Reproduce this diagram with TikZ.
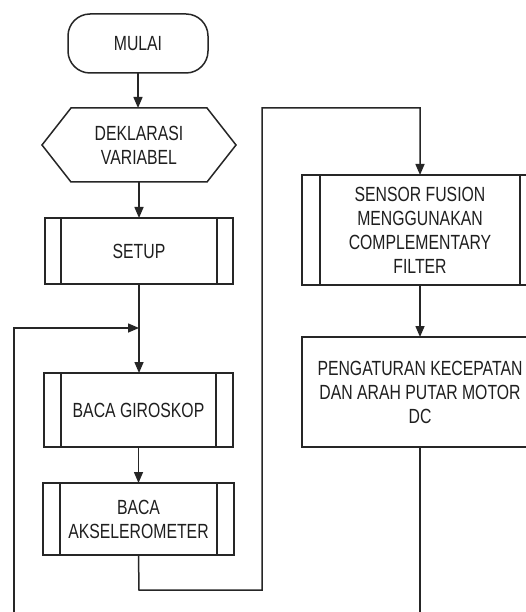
\documentclass[tikz,border=0pt]{standalone}
\usepackage{fontspec}
\setmainfont{Liberation Sans}[FakeStretch=0.77]
\usetikzlibrary{arrows.meta}
\colorlet{ln}{black!85}
\colorlet{tx}{black!88}
\newcommand\sublines[2]{\draw[ln,line width=1.5pt] ([xshift=#2]#1.north west) -- ([xshift=#2]#1.south west) ([xshift=-#2]#1.north east) -- ([xshift=-#2]#1.south east);}
\begin{document}
\begin{tikzpicture}[x=1pt,y=-1pt,
  every node/.style={font=\fontsize{20.5}{24}\selectfont, text=tx, align=center, outer sep=0pt, inner sep=0pt},
  box/.style={draw=ln, line width=1.5pt, minimum width=#1},
  conn/.style={draw=ln, line width=1.5pt},
  arr/.style={conn, -{Triangle[width=9pt,length=11pt]}}]
\useasboundingbox (0,0) rectangle (526,612);
\clip (0,0) rectangle (526,612);
\fill[white] (0,0) rectangle (526,612);
% nodes
\node[box=140pt, minimum height=59pt, rounded corners=22pt] (mulai) at (138,43.5) {MULAI};
\node[minimum width=194pt, minimum height=74pt] (dekl) at (139,145) {DEKLARASI\\VARIABEL};
\draw[ln,line width=1.5pt] (dekl.west) -- ([xshift=29]dekl.north west) -- ([xshift=-29]dekl.north east) -- (dekl.east) -- ([xshift=-29]dekl.south east) -- ([xshift=29]dekl.south west) -- cycle;
\node[box=188pt, minimum height=66pt] (setup) at (139,251) {SETUP};
\sublines{setup}{16}
\node[box=189pt, minimum height=74pt] (giro) at (138.5,410) {BACA GIROSKOP};
\sublines{giro}{17}
\node[box=191pt, minimum height=72pt] (aksel) at (138.5,519) {BACA\\AKSELEROMETER};
\sublines{aksel}{17}
\node[box=236pt, minimum height=110pt] (sensor) at (420,230) {SENSOR FUSION\\MENGGUNAKAN\\COMPLEMENTARY\\FILTER};
\sublines{sensor}{18}
\node[box=236pt, minimum height=110pt] (peng) at (420,392) {PENGATURAN KECEPATAN\\DAN ARAH PUTAR MOTOR\\DC};
% coordinates
\coordinate (merge) at (139,328);
\coordinate (loopbot) at (14,640);
\coordinate (endbot) at (420,640);
% connectors
\draw[arr] (mulai.south) -- (mulai.south |- dekl.north);
\draw[arr] (dekl.south -| setup.north) -- (setup.north);
\draw[conn] (setup.south) -- (merge);
\draw[arr] (merge) -- (merge |- giro.north);
\draw[arr] (loopbot) |- (merge);
\draw[arr] (giro.south) -- (giro.south |- aksel.north);
\draw[arr] (aksel.south) -- (139,590) -- (262,590) -- (262,108) -| (sensor.north);
\draw[arr] (sensor.south) -- (peng.north);
\draw[conn] (peng.south) -- (endbot);
\end{tikzpicture}
\end{document}
